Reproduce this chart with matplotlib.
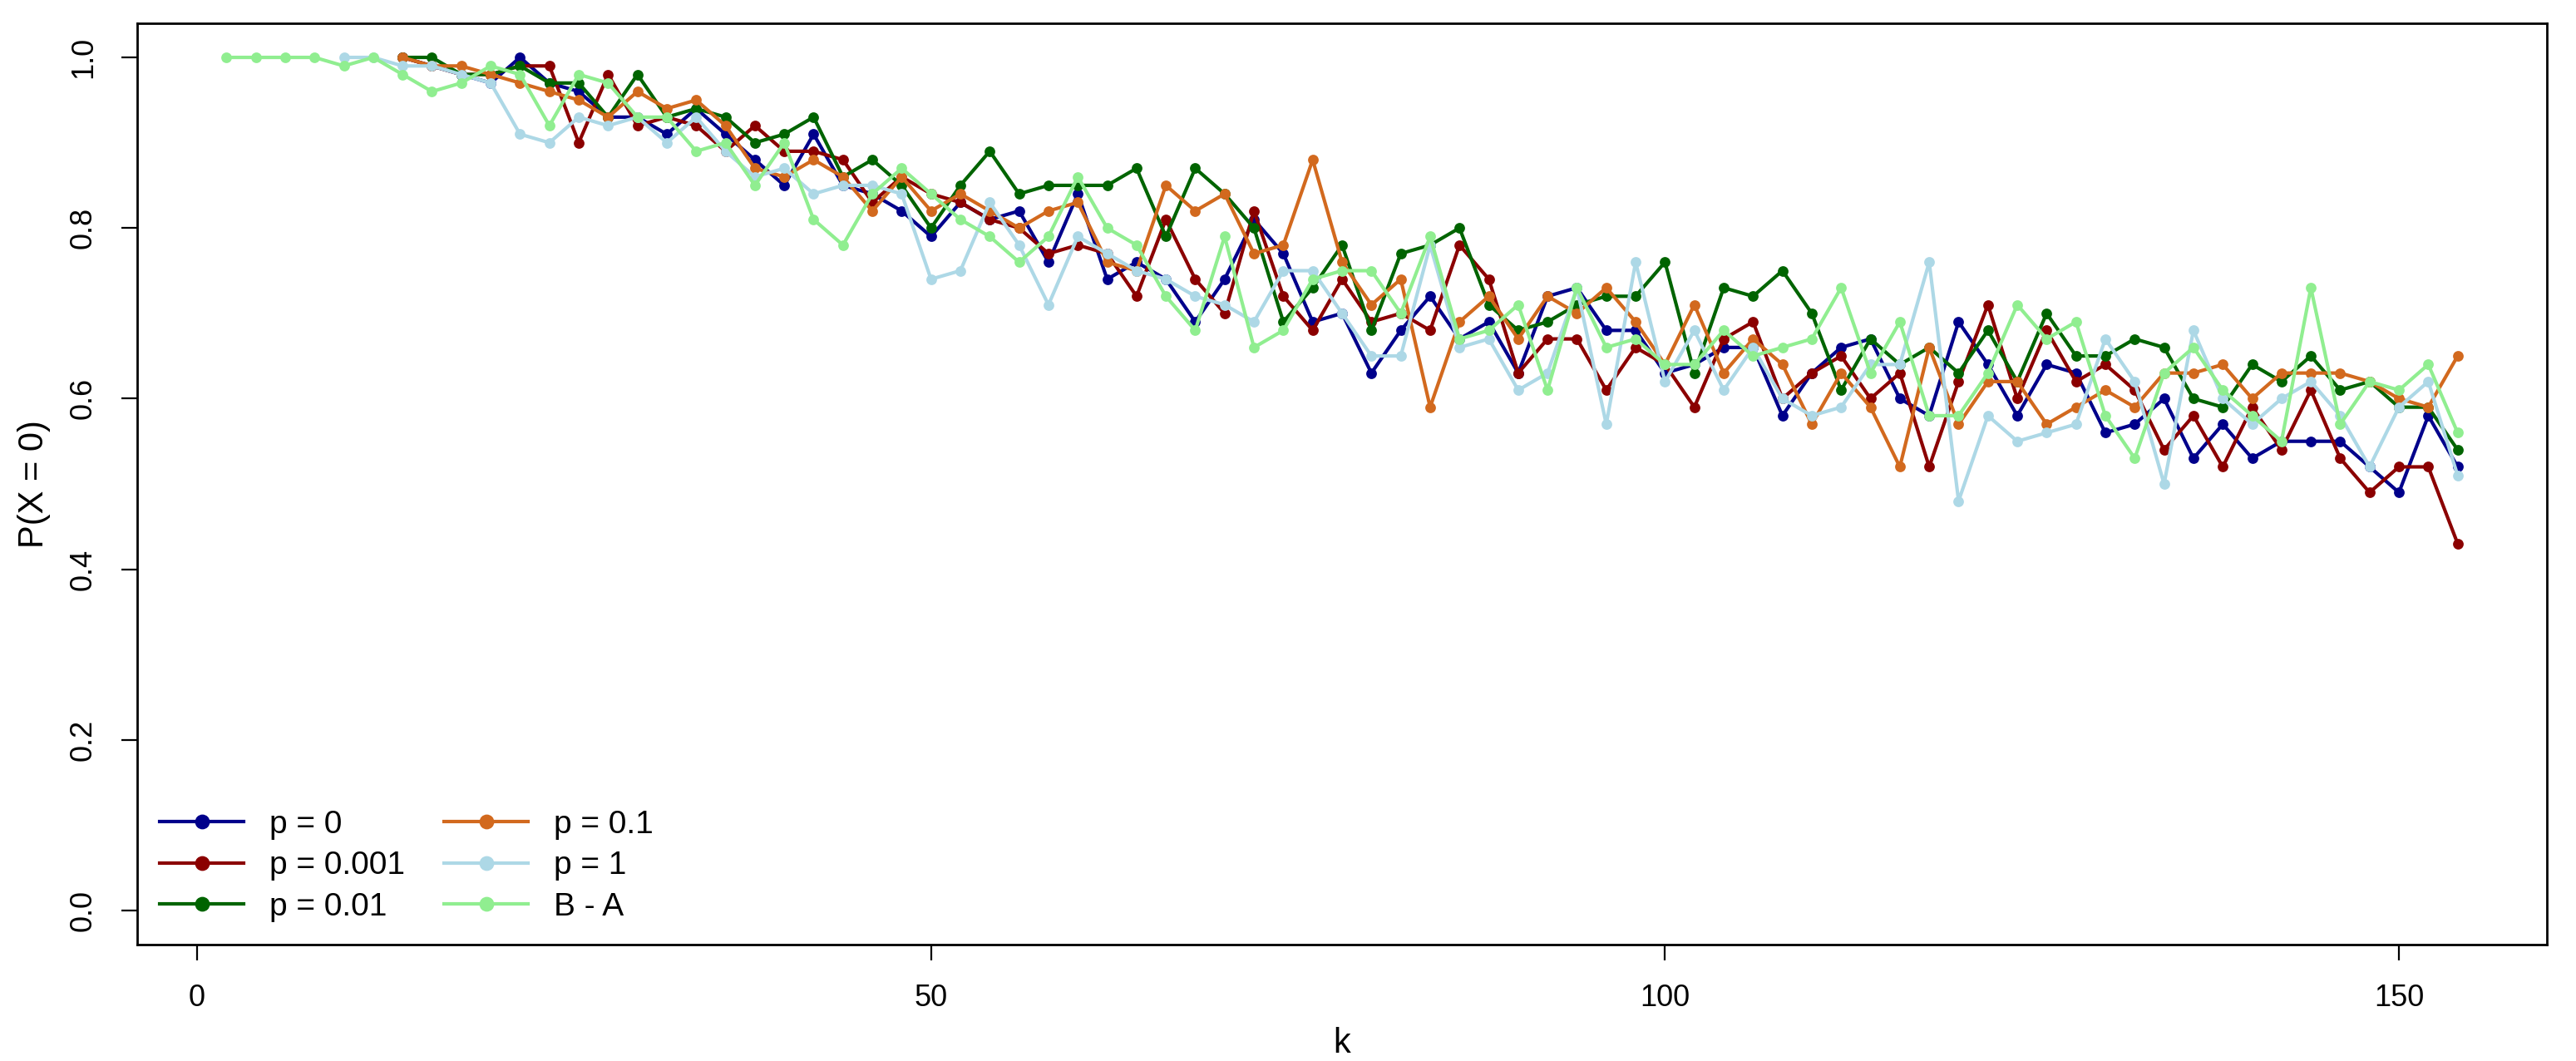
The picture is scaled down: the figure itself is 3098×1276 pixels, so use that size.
import numpy as np
import matplotlib

matplotlib.use("Agg")
import matplotlib.pyplot as plt

plt.rcParams["font.family"] = ["Liberation Sans", "DejaVu Sans"]

# k values
k_ba = list(range(2, 155, 2))
k_p1 = list(range(10, 155, 2))
k_p = list(range(14, 155, 2))

p0 = [1.00, 0.99, 0.98, 0.97, 1.00, 0.97, 0.96, 0.93, 0.93, 0.91, 0.94, 0.91, 0.88, 0.85, 0.91, 0.85,
      0.84, 0.82, 0.79, 0.83, 0.81, 0.82, 0.76, 0.84, 0.74, 0.76, 0.74, 0.69, 0.74, 0.81, 0.77, 0.69,
      0.70, 0.63, 0.68, 0.72, 0.67, 0.69, 0.63, 0.72, 0.73, 0.68, 0.68, 0.63, 0.64, 0.66, 0.66, 0.58,
      0.63, 0.66, 0.67, 0.60, 0.58, 0.69, 0.64, 0.58, 0.64, 0.63, 0.56, 0.57, 0.60, 0.53, 0.57, 0.53,
      0.55, 0.55, 0.55, 0.52, 0.49, 0.58, 0.52]
p0001 = [1.00, 0.99, 0.98, 0.98, 0.99, 0.99, 0.90, 0.98, 0.92, 0.93, 0.92, 0.89, 0.92, 0.89, 0.89, 0.88,
         0.83, 0.86, 0.84, 0.83, 0.81, 0.80, 0.77, 0.78, 0.77, 0.72, 0.81, 0.74, 0.70, 0.82, 0.72, 0.68,
         0.74, 0.69, 0.70, 0.68, 0.78, 0.74, 0.63, 0.67, 0.67, 0.61, 0.66, 0.64, 0.59, 0.67, 0.69, 0.60,
         0.63, 0.65, 0.60, 0.63, 0.52, 0.62, 0.71, 0.60, 0.68, 0.62, 0.64, 0.61, 0.54, 0.58, 0.52, 0.59,
         0.54, 0.61, 0.53, 0.49, 0.52, 0.52, 0.43]
p001 = [1.00, 1.00, 0.98, 0.98, 0.99, 0.97, 0.97, 0.93, 0.98, 0.93, 0.94, 0.93, 0.90, 0.91, 0.93, 0.86,
        0.88, 0.85, 0.80, 0.85, 0.89, 0.84, 0.85, 0.85, 0.85, 0.87, 0.79, 0.87, 0.84, 0.80, 0.69, 0.73,
        0.78, 0.68, 0.77, 0.78, 0.80, 0.71, 0.68, 0.69, 0.71, 0.72, 0.72, 0.76, 0.63, 0.73, 0.72, 0.75,
        0.70, 0.61, 0.67, 0.64, 0.66, 0.63, 0.68, 0.62, 0.70, 0.65, 0.65, 0.67, 0.66, 0.60, 0.59, 0.64,
        0.62, 0.65, 0.61, 0.62, 0.59, 0.59, 0.54]
p01 = [1.00, 0.99, 0.99, 0.98, 0.97, 0.96, 0.95, 0.93, 0.96, 0.94, 0.95, 0.92, 0.87, 0.86, 0.88, 0.86,
       0.82, 0.86, 0.82, 0.84, 0.82, 0.80, 0.82, 0.83, 0.76, 0.75, 0.85, 0.82, 0.84, 0.77, 0.78, 0.88,
       0.76, 0.71, 0.74, 0.59, 0.69, 0.72, 0.67, 0.72, 0.70, 0.73, 0.69, 0.64, 0.71, 0.63, 0.67, 0.64,
       0.57, 0.63, 0.59, 0.52, 0.66, 0.57, 0.62, 0.62, 0.57, 0.59, 0.61, 0.59, 0.63, 0.63, 0.64, 0.60,
       0.63, 0.63, 0.63, 0.62, 0.60, 0.59, 0.65]
p1 = [1.00, 1.00, 0.99, 0.99, 0.98, 0.97, 0.91, 0.90, 0.93, 0.92, 0.93, 0.90, 0.93, 0.89, 0.86, 0.87,
      0.84, 0.85, 0.85, 0.84, 0.74, 0.75, 0.83, 0.78, 0.71, 0.79, 0.77, 0.75, 0.74, 0.72, 0.71, 0.69,
      0.75, 0.75, 0.70, 0.65, 0.65, 0.78, 0.66, 0.67, 0.61, 0.63, 0.73, 0.57, 0.76, 0.62, 0.68, 0.61,
      0.66, 0.60, 0.58, 0.59, 0.64, 0.64, 0.76, 0.48, 0.58, 0.55, 0.56, 0.57, 0.67, 0.62, 0.50, 0.68,
      0.60, 0.57, 0.60, 0.62, 0.58, 0.52, 0.59, 0.62, 0.51]
ba = [1.00, 1.00, 1.00, 1.00, 0.99, 1.00, 0.98, 0.96, 0.97, 0.99, 0.98, 0.92, 0.98, 0.97, 0.93, 0.93,
      0.89, 0.90, 0.85, 0.90, 0.81, 0.78, 0.84, 0.87, 0.84, 0.81, 0.79, 0.76, 0.79, 0.86, 0.80, 0.78,
      0.72, 0.68, 0.79, 0.66, 0.68, 0.74, 0.75, 0.75, 0.70, 0.79, 0.67, 0.68, 0.71, 0.61, 0.73, 0.66,
      0.67, 0.64, 0.64, 0.68, 0.65, 0.66, 0.67, 0.73, 0.63, 0.69, 0.58, 0.58, 0.63, 0.71, 0.67, 0.69,
      0.58, 0.53, 0.63, 0.66, 0.61, 0.58, 0.55, 0.73, 0.57, 0.62, 0.61, 0.64, 0.56]

series = [
    ("p = 0", k_p, p0, "#00008B"),
    ("p = 0.001", k_p, p0001, "#8B0000"),
    ("p = 0.01", k_p, p001, "#006400"),
    ("p = 0.1", k_p, p01, "#D2691E"),
    ("p = 1", k_p1, p1, "#ADD8E6"),
    ("B - A", k_ba, ba, "#90EE90"),
]

fig = plt.figure(figsize=(15.49, 6.38), dpi=200)
ax = fig.add_axes([165 / 3098, 1 - 1136 / 1276, (3063 - 165) / 3098, (1136 - 28) / 1276])

for label, k, y, c in series:
    ax.plot(k, y, color=c, lw=1.5, marker="o", ms=3.6, label=label)

ax.set_xlim(-4.08, 160.08)
ax.set_ylim(-0.04, 1.04)
ax.set_xticks([0, 50, 100, 150])
ax.set_yticks([0.0, 0.2, 0.4, 0.6, 0.8, 1.0])
ax.set_yticklabels(["0.0", "0.2", "0.4", "0.6", "0.8", "1.0"], rotation=90, va="center")
ax.tick_params(labelsize=13, length=7, width=0.8, pad=10)
for s in ax.spines.values():
    s.set_linewidth(1.0)
ax.set_xlabel("k", fontsize=15, labelpad=6)
ax.set_ylabel("P(X = 0)", fontsize=15, labelpad=8)

ax.legend(loc="lower left", ncol=2, frameon=False, fontsize=14, handlelength=2.6,
          markerscale=1.5, columnspacing=1.2, labelspacing=0.35, borderaxespad=0.3)

fig.savefig("out.png", dpi=200)
